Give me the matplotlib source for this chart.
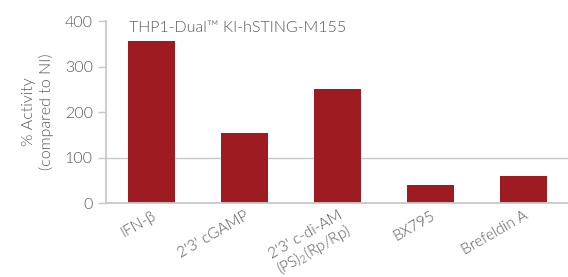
import matplotlib.pyplot as plt

labels = ["IFN-β", "2'3' cGAMP", "2'3' c-di-AM\n(PS)$_2$(Rp/Rp)", "BX795", "Brefeldin A"]
values = [356, 154, 250, 40, 59]

plt.rcParams['font.family'] = ['Lato', 'DejaVu Sans']
plt.rcParams['font.weight'] = 300
plt.rcParams['mathtext.fontset'] = 'custom'
plt.rcParams['mathtext.rm'] = 'Lato:weight=300'
plt.rcParams['mathtext.default'] = 'rm'

txt = '#555555'
grey = '#c8c8c8'
red = '#9e1b22'

fig = plt.figure(figsize=(5.68, 2.77), dpi=100)
ax = fig.add_axes([0.1866, 0.267, 0.8134, 0.657])

x = range(len(values))
ax.axhline(100, color=grey, lw=1, zorder=0)
ax.bar(x, values, width=0.5, color=red, zorder=2)

ax.set_xlim(-0.49, 4.48)
ax.set_ylim(0, 400)
ax.set_yticks([0, 100, 200, 300, 400])
ax.tick_params(axis='y', colors=grey, length=6, width=1, labelcolor=txt, labelsize=11.5)
ax.tick_params(axis='x', length=0, labelcolor=txt, labelsize=11, pad=4)
ax.set_xticks(list(x))
ax.set_xticklabels(labels, rotation=30, ha='right', rotation_mode='anchor',
                   linespacing=0.95)

for s in ['top', 'right']:
    ax.spines[s].set_visible(False)
for s in ['left', 'bottom']:
    ax.spines[s].set_color(grey)
    ax.spines[s].set_linewidth(1.3)

ax.set_ylabel('% Activity\n(compared to NI)', color=txt, fontsize=11.5, labelpad=8,
              fontweight=300)
ax.text(0.05, 1.0, 'THP1-Dual™ KI-hSTING-M155', transform=ax.transAxes,
        color=txt, fontsize=11.5, va='top', ha='left')

fig.savefig('out.png', dpi=100)
